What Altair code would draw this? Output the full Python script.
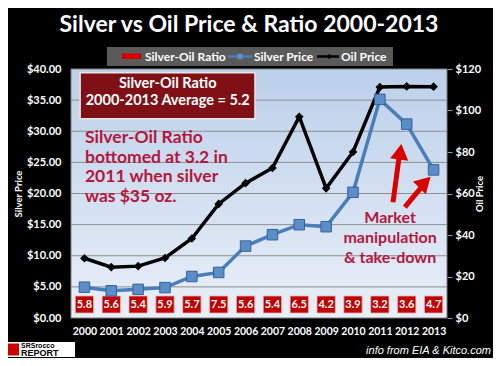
import altair as alt
import pandas as pd

# ---------------- data ----------------
years = list(range(2000, 2014))
silver_price = [4.95, 4.37, 4.60, 4.88, 6.67, 7.32, 11.55, 13.38, 14.99, 14.67, 20.19, 35.12, 31.15, 23.79]
oil_price = [28.8, 24.5, 25.0, 28.9, 38.3, 55.0, 65.0, 72.3, 97.0, 62.5, 80.0, 111.3, 111.6, 111.5]
ratio = [5.8, 5.6, 5.4, 5.9, 5.7, 7.5, 5.6, 5.4, 6.5, 4.2, 3.9, 3.2, 3.6, 4.7]
silver_ticks = [0, 5, 10, 15, 20, 25, 30, 35, 40]
oil_ticks = [0, 20, 40, 60, 80, 100, 120]
series_names = ["Silver-Oil Ratio", "Silver Price", "Oil Price"]
title_text = "Silver vs Oil Price & Ratio 2000-2013"
avg_box_lines = ["Silver-Oil Ratio", "2000-2013 Average = 5.2"]
bottom_lines = ["Silver-Oil Ratio", "bottomed at 3.2 in", "2011 when silver", "was $35 oz."]
market_lines = ["Market", "manipulation", "& take-down"]

# ---------------- layout ----------------
W, H = 376, 249
FONT = "Lato"
RED_TXT = "#b5163a"
ARROW = "#d90000"

df = pd.DataFrame({"year": years, "silver": silver_price, "oil": oil_price, "ratio": ratio})
df["label"] = [f"{r:.1f}" for r in ratio]

xs = alt.Scale(domain=[1999.5, 2013.5], nice=False, zero=False)
ys = alt.Scale(domain=[0, 40], nice=False, zero=True)
yo = alt.Scale(domain=[0, 120], nice=False, zero=True)

xaxis = alt.Axis(values=years, format="d", labelColor="white", labelFont=FONT,
                 labelFontWeight="bold", labelFontSize=10.5, labelPadding=8,
                 ticks=False, domain=False, grid=False, title=None, labelFlush=False)

def X(field):
    return alt.X(field, type="quantitative", scale=xs, axis=xaxis)

def YS(field):
    return alt.Y(field, type="quantitative", scale=ys, axis=None)

one = pd.DataFrame({"k": [0]})

# plot background
bg = alt.Chart(one).mark_rect(
    fill=alt.Gradient(gradient="linear", x1=0, y1=0, x2=0, y2=1,
                      stops=[alt.GradientStop(offset=0, color="#bcd0ea"),
                             alt.GradientStop(offset=1, color="#e9eff8")]),
    stroke="#7f7f7f", strokeWidth=1,
).encode(x=alt.value(0), x2=alt.value(W), y=alt.value(0), y2=alt.value(H))

grid = alt.Chart(pd.DataFrame({"v": silver_ticks[1:-1]})).mark_rule(
    color="#8e8e8e", strokeWidth=1
).encode(y=YS("v"))

# ratio boxes
boxes = alt.Chart(df).transform_calculate(
    x1="datum.year - 0.34", x2="datum.year + 0.34"
).mark_rect(fill="#c00000", stroke="#e9b3b3", strokeWidth=0.8).encode(
    x=X("x1"), x2="x2:Q", y=alt.value(H - 22), y2=alt.value(H - 5)
)
box_text = alt.Chart(df).mark_text(
    color="white", font=FONT, fontWeight="bold", fontSize=11, baseline="middle"
).encode(x=X("year"), y=alt.value(H - 13.5), text="label:N")

# oil line (right axis)
oil_axis = alt.Axis(values=oil_ticks, labelExpr="'$' + datum.value", orient="right",
                    labelColor="white", labelFont=FONT, labelFontWeight="bold",
                    labelFontSize=11, labelPadding=3, ticks=True, tickSize=5,
                    tickColor="#9a9a9a", domain=False, grid=False,
                    title="Oil Price", titleColor="white", titleFont=FONT,
                    titleFontWeight="bold", titleFontSize=9.5, titleAngle=270,
                    titlePadding=4)
oil_line = alt.Chart(df).mark_line(color="black", strokeWidth=3.5).encode(
    x=X("year"), y=alt.Y("oil:Q", scale=yo, axis=oil_axis))
oil_pts = alt.Chart(df).mark_point(shape="diamond", filled=True, color="black",
                                   size=75, opacity=1).encode(
    x=X("year"), y=alt.Y("oil:Q", scale=yo, axis=None))

# silver line (left axis)
silver_axis = alt.Axis(values=silver_ticks, format="$.2f", labelColor="white",
                       labelFont=FONT, labelFontWeight="bold", labelFontSize=11,
                       labelPadding=10, ticks=False, domain=False, grid=False,
                       title="Silver  Price", titleColor="white", titleFont=FONT,
                       titleFontWeight="bold", titleFontSize=9.5, titlePadding=3)
silver_line = alt.Chart(df).mark_line(color="#4a7ebb", strokeWidth=3.5).encode(
    x=X("year"), y=alt.Y("silver:Q", scale=ys, axis=silver_axis))
silver_pts = alt.Chart(df).mark_point(shape="square", filled=True, fill="#5b8dc9",
                                      stroke="#35619a", strokeWidth=1, size=110,
                                      opacity=1).encode(
    x=X("year"), y=YS("silver"))

# average box annotation
avg_box = alt.Chart(pd.DataFrame({"x1": [1999.84], "x2": [2006.35], "y1": [39.4], "y2": [32.0]})).mark_rect(
    fill="#7f1016", stroke="#e6e6e6", strokeWidth=1.5
).encode(x=X("x1"), x2="x2:Q", y=YS("y1"), y2="y2:Q")
avg_text = alt.Chart(pd.DataFrame({"t": avg_box_lines, "x": [2003.1, 2003.1], "y": [37.6, 34.8]})).mark_text(
    color="white", font=FONT, fontWeight="bold", fontSize=14.5, baseline="middle", align="center"
).encode(x=X("x"), y=YS("y"), text="t:N")

bottom_text = alt.Chart(pd.DataFrame({"t": bottom_lines, "x": [2000.02] * 4,
                                      "y": [28.9, 25.7, 22.6, 19.4]})).mark_text(
    color=RED_TXT, font=FONT, fontWeight="bold", fontSize=17.5, baseline="middle", align="left"
).encode(x=X("x"), y=YS("y"), text="t:N")

market_text = alt.Chart(pd.DataFrame({"t": market_lines, "x": [2011.38] * 3,
                                      "y": [16.0, 12.8, 9.6]})).mark_text(
    color=RED_TXT, font=FONT, fontWeight="bold", fontSize=16, baseline="middle", align="center"
).encode(x=X("x"), y=YS("y"), text="t:N")

# arrows
arrow_df = pd.DataFrame({"x1": [2011.49, 2011.93], "y1": [18.6, 17.8],
                         "x2": [2011.72, 2012.62], "y2": [26.0, 21.4]})
arrow_shaft = alt.Chart(arrow_df).mark_rule(color=ARROW, strokeWidth=5).encode(
    x=X("x1"), y=YS("y1"), x2="x2:Q", y2="y2:Q")
head1 = alt.Chart(pd.DataFrame({"x": [2011.76], "y": [26.7]})).mark_point(
    shape="triangle-up", filled=True, color=ARROW, size=330, angle=8, opacity=1
).encode(x=X("x"), y=YS("y"))
head2 = alt.Chart(pd.DataFrame({"x": [2012.68], "y": [21.8]})).mark_point(
    shape="triangle-up", filled=True, color=ARROW, size=330, angle=45, opacity=1
).encode(x=X("x"), y=YS("y"))

# title
title = alt.Chart(one).mark_text(
    text=title_text, color="white", font=FONT, fontWeight="bold", fontSize=23,
    baseline="middle", align="center"
).encode(x=alt.value(178), y=alt.value(-44))

# legend (custom)
leg_bg = alt.Chart(one).mark_rect(fill="#5a5a5a").encode(
    x=alt.value(36), x2=alt.value(322), y=alt.value(-22), y2=alt.value(-3))
leg_red = alt.Chart(one).mark_rect(fill="#d40000").encode(
    x=alt.value(51), x2=alt.value(70), y=alt.value(-15.5), y2=alt.value(-10))
leg_blue = alt.Chart(one).mark_rule(color="#4a7ebb", strokeWidth=2.5).encode(
    x=alt.value(157), x2=alt.value(181), y=alt.value(-12.5))
leg_blue_pt = alt.Chart(one).mark_point(shape="square", filled=True, fill="#5b8dc9",
                                        size=30, opacity=1).encode(
    x=alt.value(169), y=alt.value(-12.5))
leg_black = alt.Chart(one).mark_rule(color="black", strokeWidth=2.5).encode(
    x=alt.value(246), x2=alt.value(268), y=alt.value(-12.5))
leg_black_pt = alt.Chart(one).mark_point(shape="diamond", filled=True, color="black",
                                         size=30, opacity=1).encode(
    x=alt.value(258), y=alt.value(-12.5))
leg_text = alt.Chart(pd.DataFrame({"t": series_names, "px": [74, 183, 270]})).mark_text(
    color="white", font=FONT, fontWeight="bold", fontSize=12, baseline="middle", align="left"
).encode(x=alt.X("px:Q", scale=None, axis=None), y=alt.value(-12), text="t:N")

# footer
source = alt.Chart(one).mark_text(
    text="info from EIA & Kitco.com", color="white", font="Liberation Sans",
    fontStyle="italic", fontSize=11, align="right", baseline="middle"
).encode(x=alt.value(420), y=alt.value(282))
logo_bg = alt.Chart(one).mark_rect(fill="white").encode(
    x=alt.value(-65), x2=alt.value(4), y=alt.value(273), y2=alt.value(288))
logo_red = alt.Chart(one).mark_rect(fill="#cc0000").encode(
    x=alt.value(-64), x2=alt.value(-52), y=alt.value(274.5), y2=alt.value(286.5))
logo_t1 = alt.Chart(one).mark_text(
    text="SRSrocco", color="black", font="Liberation Sans", fontWeight="bold",
    fontSize=7, align="left", baseline="middle"
).encode(x=alt.value(-50), y=alt.value(277))
logo_t2 = alt.Chart(one).mark_text(
    text="REPORT", color="black", font="Liberation Sans", fontWeight="bold",
    fontSize=9, align="left", baseline="middle"
).encode(x=alt.value(-50), y=alt.value(284))

chart = alt.layer(
    bg, grid, boxes, box_text, oil_line, oil_pts, silver_line, silver_pts,
    avg_box, avg_text, bottom_text, market_text, arrow_shaft, head1, head2,
    title, leg_bg, leg_red, leg_blue, leg_blue_pt, leg_black, leg_black_pt, leg_text,
    source, logo_bg, logo_red, logo_t1, logo_t2,
).resolve_scale(y="independent").properties(
    width=W, height=H,
    background="black",
    padding={"left": 63, "top": 61, "right": 46, "bottom": 40},
    autosize=alt.AutoSizeParams(type="none"),
).configure_view(stroke=None)

chart.save("out.html", embed_options={"renderer": "svg", "actions": False})
